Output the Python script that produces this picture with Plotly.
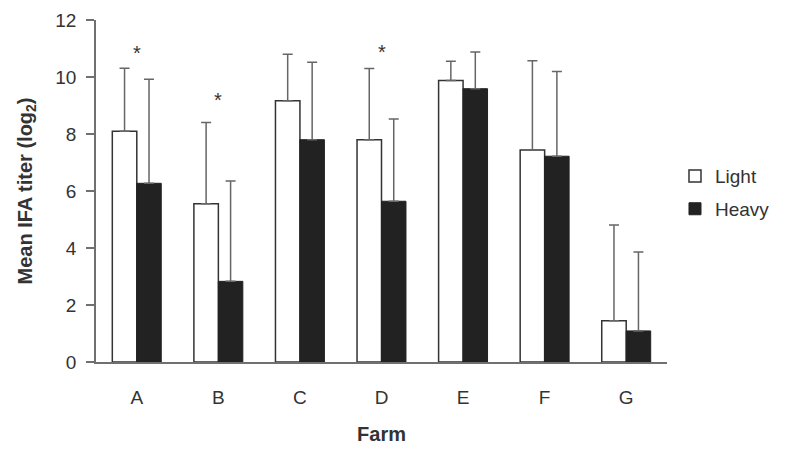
import plotly.graph_objects as go

# Mean IFA titer (log2) per farm, light vs heavy infection
farms = ["A", "B", "C", "D", "E", "F", "G"]
light_mean = [8.10, 5.55, 9.17, 7.80, 9.88, 7.44, 1.45]
light_sd = [2.21, 2.85, 1.63, 2.50, 0.67, 3.13, 3.36]
heavy_mean = [6.27, 2.83, 7.80, 5.64, 9.59, 7.22, 1.09]
heavy_sd = [3.65, 3.52, 2.72, 2.89, 1.29, 2.97, 2.77]

# significance markers (farm, height of the asterisk)
star_farms = ["A", "B", "D"]
star_y = [10.83, 9.19, 10.86]

yticks = [0, 2, 4, 6, 8, 10, 12]

font_family = "Liberation Sans, Arial, sans-serif"
text_color = "#333333"
axis_color = "#707070"

fig = go.Figure()

fig.add_trace(go.Bar(
    x=farms,
    y=light_mean,
    name="Light",
    legendgroup="light",
    marker=dict(color="white", line=dict(color="#333333", width=1.5)),
    error_y=dict(type="data", array=light_sd, arrayminus=[0] * len(farms),
                 symmetric=False, color="#666666", thickness=1.5, width=5),
))

fig.add_trace(go.Bar(
    x=farms,
    y=heavy_mean,
    name="Heavy",
    legendgroup="heavy",
    marker=dict(color="#222222", line=dict(color="#222222", width=1)),
    error_y=dict(type="data", array=heavy_sd, arrayminus=[0] * len(farms),
                 symmetric=False, color="#666666", thickness=1.5, width=5),
))

for f, y in zip(star_farms, star_y):
    fig.add_annotation(x=f, y=y, text="*", showarrow=False,
                       font=dict(size=20, color=text_color, family=font_family))

# the page adds an 8 px body margin, so margins are trimmed to compensate
fig.update_layout(
    width=790,
    height=456,
    margin=dict(l=88, r=131, t=12, b=102),
    paper_bgcolor="white",
    plot_bgcolor="white",
    barmode="group",
    bargap=0.4,
    bargroupgap=0,
    font=dict(family=font_family, color=text_color, size=19),
    legend=dict(
        x=1.014, xanchor="left", y=0.495, yanchor="middle",
        font=dict(size=19, color=text_color),
        itemwidth=30,
        tracegroupgap=5,
        bgcolor="rgba(0,0,0,0)",
    ),
    xaxis=dict(
        title=dict(text="<b>Farm</b>", font=dict(size=20), standoff=20),
        showline=True, linecolor=axis_color, linewidth=1.5,
        ticks="", ticklabelstandoff=17,
        showgrid=False, zeroline=False, automargin=False,
    ),
    yaxis=dict(
        title=dict(text="<b>Mean IFA titer (log<sub>2</sub>)</b>", font=dict(size=20), standoff=17),
        range=[0, 12],
        tickvals=yticks,
        showline=True, linecolor=axis_color, linewidth=1.5,
        ticks="outside", ticklen=8, tickcolor=axis_color, tickwidth=1.5,
        ticklabelstandoff=6,
        showgrid=False, zeroline=False, automargin=False,
    ),
)

fig.write_html("out.html")
